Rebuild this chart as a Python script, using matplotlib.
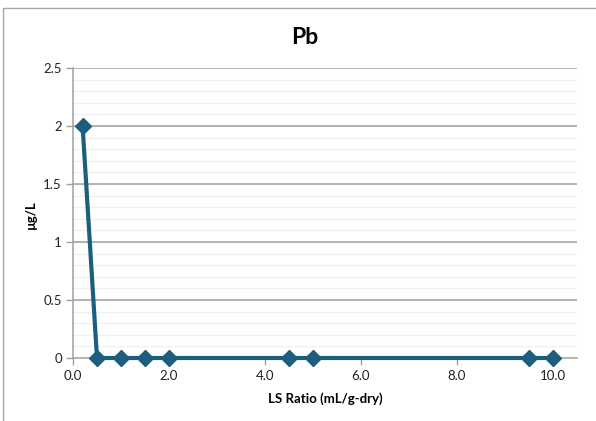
import matplotlib.pyplot as plt
from matplotlib.patches import Rectangle
import numpy as np

plt.rcParams['font.family'] = ['Lato', 'DejaVu Sans']

# data
ls_ratio = [0.2, 0.5, 1.0, 1.5, 2.0, 4.5, 5.0, 9.5, 10.0]
pb_conc = [2.0, 0.0, 0.0, 0.0, 0.0, 0.0, 0.0, 0.0, 0.0]
x_ticks = [0, 2, 4, 6, 8, 10]
y_ticks = [0, 0.5, 1, 1.5, 2, 2.5]
y_labels = ['0', '0.5', '1', '1.5', '2', '2.5']

W, H = 596, 421
fig = plt.figure(figsize=(W / 100, H / 100), dpi=100)

# chart area border (cropped on right and bottom)
fig.patches.append(Rectangle((3 / W, -0.1), 1.2, 1 - 8 / H + 0.1, transform=fig.transFigure,
                             fill=False, edgecolor='#a6a6a6', linewidth=1.0))

ax = fig.add_axes([73 / W, 1 - 358 / H, (577 - 73) / W, (358 - 68) / H])
ax.set_xlim(0, 10.5)
ax.set_ylim(0, 2.5)

# minor gridlines
for v in np.arange(0.1, 2.5, 0.1):
    ax.axhline(v, color='#eef0f3', linewidth=0.9, zorder=0)
for v in y_ticks[1:]:
    ax.axhline(v, color='#a0a0a0', linewidth=1.1, zorder=1)

ax.plot(ls_ratio, pb_conc, color='#1b5e7e', linewidth=3, marker='D', markersize=8.5,
        zorder=3, clip_on=False)

ax.set_xticks(x_ticks)
ax.set_xticklabels([f'{v:.1f}' for v in x_ticks])
ax.set_yticks(y_ticks)
ax.set_yticklabels(y_labels)
ax.tick_params(axis='both', length=5, width=1, color='#a0a0a0', labelsize=9.5, labelcolor='#222222')
ax.tick_params(axis='x', pad=4)
ax.tick_params(axis='y', pad=3)

for s in ['top', 'right']:
    ax.spines[s].set_visible(False)
for s in ['left', 'bottom']:
    ax.spines[s].set_color('#a0a0a0')
    ax.spines[s].set_linewidth(1.1)

fig.text(305 / W, 1 - 37 / H, 'Pb', ha='center', va='center', fontsize=16.5, fontweight='bold')
fig.text(325 / W, 1 - 399 / H, 'LS Ratio (mL/g-dry)', ha='center', va='center',
         fontsize=9.5, fontweight='bold')
fig.text(31 / W, 1 - 215 / H, 'µg/L', ha='center', va='center', rotation=90,
         fontsize=9.5, fontweight='bold')

fig.savefig('out.png', dpi=100)
